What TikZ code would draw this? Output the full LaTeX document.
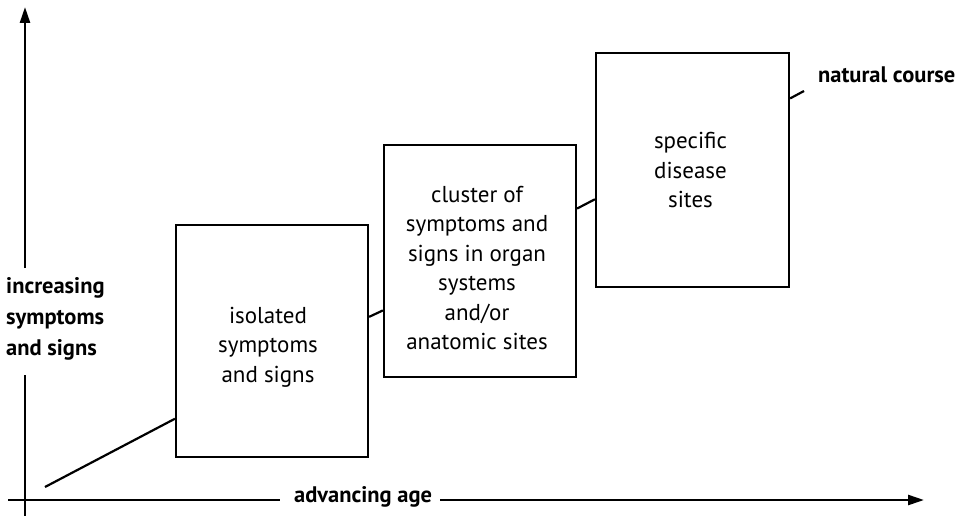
\documentclass[tikz,border=0pt]{standalone}
\usepackage{fontspec}
\setmainfont{PT Sans}
\usetikzlibrary{arrows.meta,calc}
\begin{document}
\begin{tikzpicture}[x=1pt,y=-1pt,
  every node/.style={font=\fontsize{23}{30}\selectfont, inner sep=0pt},
  stagebox/.style={draw, line width=2.2pt, minimum width=192pt, minimum height=232pt},
  boxtext/.style={align=center, font=\fontsize{23}{29.5}\selectfont},
  axislabel/.style={font=\fontsize{22.5}{31}\selectfont\bfseries},
  link/.style={line width=2.2pt},
  axisline/.style={line width=2.5pt},
  axisarrow/.style={line width=2.5pt, -{Triangle[length=16pt,width=10pt]}}]
\useasboundingbox (0,0) rectangle (974,516);
% boxes
\node[stagebox] (b1) at (272,341) {};
\node[stagebox] (b2) at (480,261) {};
\node[stagebox, minimum width=193pt, minimum height=234pt] (b3) at (692.5,170) {};
\node[boxtext] (t1) at ($(b1)+(-4,6)$) {isolated\\symptoms\\and signs};
\node[boxtext] (t2) at ($(b2)+(-3,7)$) {cluster of\\symptoms and\\signs in organ\\systems\\and/or\\anatomic sites};
\node[boxtext] (t3) at ($(b3)+(-2,0)$) {specific\\disease\\sites};
% labels
\node[axislabel, anchor=west, align=left] (yl) at (6,319) {increasing\\symptoms\\and signs};
\node[axislabel, anchor=mid west] (xl) at (294,500) {advancing age};
\node[axislabel, anchor=mid west] (nc) at (818,80) {natural course};
% axis coordinates
\coordinate (ytop) at (25,7);
\coordinate (yup) at (25,268);
\coordinate (ylow) at (25,375);
\coordinate (ybot) at (25,516);
\coordinate (xleft) at (8,500);
\coordinate (xmid1) at (280,500);
\coordinate (xend) at (924,500);
\coordinate (start) at (45,487);
\coordinate (nce) at (804,91);
% axes
\draw[axisline] (ybot) -- (ylow);
\draw[axisarrow] (yup) -- (ytop);
\draw[axisline] (xleft) -- (xmid1);
\draw[axisarrow] ($(xl.mid east)+(8,0)$) -- (xend);
% connectors
\draw[link] (start) -- ($(b1.south west)!0.168!(b1.north west)$);
\draw[link] ($(b1.south east)!0.603!(b1.north east)$) -- ($(b2.south west)!0.289!(b2.north west)$);
\draw[link] ($(b2.south east)!0.724!(b2.north east)$) -- ($(b3.south west)!0.376!(b3.north west)$);
\draw[link] ($(b3.south east)!0.803!(b3.north east)$) -- (nce);
\end{tikzpicture}
\end{document}
